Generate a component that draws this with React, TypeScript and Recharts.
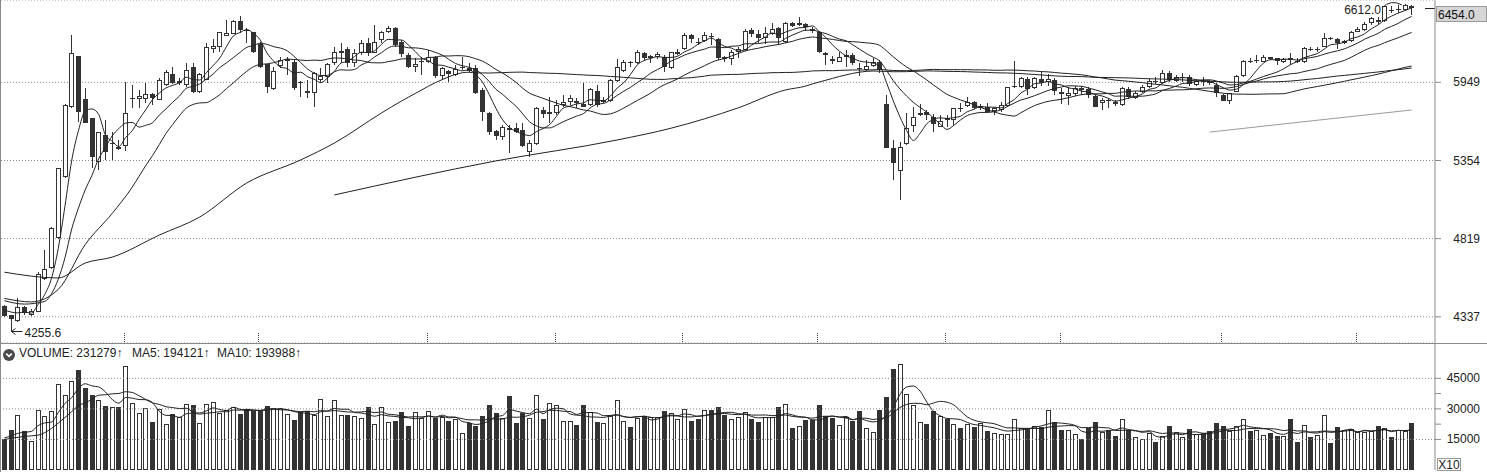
import React from 'react';
import { ComposedChart, Bar, Line, XAxis, YAxis, CartesianGrid, ReferenceLine, ReferenceDot } from 'recharts';

// ---- candle data ----
const opens = [
  4401, 4347, 4312, 4394, 4347, 4365, 4562, 4630, 4821, 5238,
  5758, 6162, 5817, 5667, 5346, 5541, 5475, 5454, 5461, 5817,
  5815, 5817, 5853, 5809, 5928, 6016, 5946, 5928, 6070, 5874,
  5967, 6226, 6240, 6334, 6349, 6461, 6383, 6363, 6262, 6095,
  5893, 6082, 6123, 6117, 5954, 5883, 5862, 5967, 5994, 6104,
  6186, 6226, 6104, 6192, 6275, 6192, 6298, 6363, 6403, 6284,
  6173, 6075, 6114, 6110, 6155, 5999, 6043, 6007, 6061, 6061,
  6061, 5888, 5705, 5571, 5524, 5596, 5596, 5579, 5418, 5475,
  5731, 5698, 5705, 5770, 5796, 5801, 5778, 5770, 5880, 5796,
  5801, 5959, 6040, 6117, 6104, 6186, 6145, 6155, 6158, 6061,
  6181, 6219, 6340, 6284, 6292, 6332, 6304, 6158, 6137, 6195,
  6214, 6383, 6347, 6312, 6349, 6398, 6284, 6447, 6424, 6435,
  6389, 6369, 6192, 6137, 6117, 6158, 6173, 6066, 6048, 6084,
  6112, 5778, 5442, 5281, 5475, 5609, 5692, 5718, 5680, 5604,
  5670, 5654, 5749, 5763, 5796, 5744, 5757, 5723, 5731, 5763,
  5910, 5910, 5975, 5901, 5975, 5949, 5967, 5874, 5842, 5855,
  5901, 5896, 5842, 5783, 5811, 5796, 5770, 5893, 5828, 5870,
  5912, 5962, 5946, 6027, 5962, 5989, 5991, 5928, 5963, 5959,
  5928, 5849, 5803, 5874, 5999, 6119, 6128, 6117, 6155, 6145,
  6110, 6145, 6123, 6112, 6222, 6219, 6240, 6317, 6304, 6270,
  6290, 6369, 6383, 6441, 6470, 6461, 6558, 6558, 6562, 6594,
];
const highs = [
  4405, 4350, 4448, 4400, 4380, 4608, 4747, 4893, 5300, 5775,
  6337, 6165, 5901, 5670, 5565, 5654, 5566, 5504, 5954, 5928,
  5888, 5946, 5860, 5981, 6048, 6075, 5984, 6104, 6104, 6024,
  6270, 6304, 6368, 6470, 6470, 6505, 6398, 6368, 6284, 6100,
  6072, 6156, 6158, 6131, 5956, 5967, 6035, 6062, 6104, 6241,
  6270, 6235, 6226, 6298, 6312, 6427, 6375, 6418, 6412, 6298,
  6186, 6145, 6156, 6214, 6160, 6075, 6048, 6089, 6155, 6104,
  6089, 5903, 5712, 5580, 5619, 5619, 5631, 5631, 5504, 5756,
  5756, 5835, 5809, 5849, 5849, 5822, 5941, 5903, 5928, 5835,
  5973, 6137, 6131, 6120, 6214, 6200, 6173, 6200, 6173, 6200,
  6226, 6360, 6349, 6312, 6369, 6355, 6312, 6164, 6214, 6241,
  6389, 6398, 6383, 6412, 6441, 6412, 6456, 6456, 6499, 6441,
  6412, 6377, 6200, 6164, 6200, 6214, 6186, 6104, 6131, 6145,
  6131, 5849, 5504, 5492, 5705, 5756, 5775, 5731, 5698, 5692,
  5692, 5744, 5783, 5835, 5800, 5778, 5783, 5756, 5796, 5915,
  6123, 5991, 5991, 5991, 6035, 6020, 5984, 5901, 5910, 5920,
  5920, 5912, 5857, 5822, 5825, 5806, 5915, 5912, 5878, 5928,
  5975, 5991, 6048, 6040, 6007, 6024, 6007, 5975, 5991, 5967,
  5940, 5857, 5862, 6007, 6131, 6145, 6173, 6173, 6158, 6150,
  6145, 6186, 6145, 6241, 6241, 6241, 6355, 6325, 6312, 6298,
  6377, 6412, 6453, 6499, 6499, 6595, 6592, 6602, 6612, 6602,
];
const lows = [
  4335, 4255.6, 4306, 4347, 4341, 4364, 4557, 4626, 4817, 5232,
  5750, 5641, 5630, 5298, 5286, 5358, 5358, 5430, 5425, 5744,
  5744, 5783, 5771, 5805, 5920, 5935, 5928, 5915, 5861, 5862,
  5965, 6192, 6200, 6330, 6345, 6355, 6270, 6186, 6061, 5861,
  5888, 6063, 6007, 5888, 5835, 5822, 5756, 5954, 5941, 6089,
  6104, 6075, 6075, 6173, 6164, 6186, 6275, 6355, 6241, 6158,
  6061, 6035, 6007, 6104, 5981, 5973, 5954, 5999, 6048, 6031,
  5857, 5648, 5541, 5504, 5504, 5406, 5554, 5454, 5382, 5467,
  5667, 5631, 5692, 5756, 5770, 5744, 5756, 5763, 5756, 5783,
  5796, 5955, 6035, 6075, 6095, 6131, 6104, 6137, 6035, 6053,
  6173, 6214, 6270, 6256, 6284, 6256, 6131, 6117, 6089, 6145,
  6208, 6326, 6270, 6264, 6340, 6256, 6270, 6412, 6418, 6377,
  6355, 6192, 6089, 6098, 6110, 6075, 6089, 5999, 6043, 6075,
  6021, 5442, 5215, 5076, 5467, 5566, 5684, 5654, 5564, 5601,
  5601, 5619, 5715, 5756, 5739, 5731, 5708, 5692, 5718, 5755,
  5901, 5903, 5849, 5896, 5920, 5920, 5849, 5778, 5771, 5841,
  5849, 5825, 5755, 5731, 5744, 5763, 5763, 5817, 5817, 5862,
  5903, 5936, 5936, 5951, 5951, 5951, 5920, 5920, 5920, 5928,
  5835, 5801, 5778, 5872, 5995, 6104, 6104, 6110, 6131, 6089,
  6104, 6089, 6104, 6104, 6208, 6200, 6240, 6298, 6226, 6264,
  6284, 6366, 6375, 6427, 6427, 6456, 6529, 6529, 6556, 6514,
];
const closes = [
  4341, 4323, 4394, 4361, 4373, 4596, 4624, 4886, 5298, 5770,
  6192, 5718, 5634, 5382, 5561, 5418, 5482, 5435, 5711, 5825,
  5840, 5853, 5827, 5967, 6035, 5941, 5959, 6048, 5874, 6016,
  6236, 6248, 6363, 6354, 6461, 6383, 6375, 6200, 6075, 5915,
  6043, 6131, 6137, 5901, 5941, 5862, 6027, 5999, 6095, 6200,
  6205, 6104, 6192, 6275, 6186, 6284, 6369, 6403, 6256, 6178,
  6075, 6098, 6123, 6155, 5999, 6062, 6016, 6057, 6075, 6043,
  5862, 5718, 5566, 5534, 5599, 5579, 5566, 5461, 5479, 5744,
  5700, 5718, 5770, 5796, 5822, 5786, 5757, 5893, 5770, 5809,
  5967, 6075, 6110, 6104, 6195, 6145, 6164, 6181, 6075, 6195,
  6200, 6340, 6304, 6270, 6340, 6321, 6150, 6137, 6200, 6219,
  6375, 6347, 6318, 6360, 6389, 6312, 6447, 6421, 6441, 6412,
  6375, 6200, 6173, 6123, 6155, 6173, 6104, 6053, 6082, 6112,
  6048, 5446, 5334, 5454, 5591, 5679, 5711, 5692, 5624, 5649,
  5654, 5744, 5744, 5796, 5744, 5763, 5718, 5744, 5767, 5915,
  5920, 5981, 5893, 5981, 5946, 5975, 5883, 5853, 5866, 5903,
  5886, 5849, 5757, 5809, 5803, 5778, 5901, 5832, 5862, 5910,
  5959, 5957, 6027, 5967, 5991, 5991, 5936, 5959, 5960, 5946,
  5862, 5803, 5862, 5999, 6123, 6117, 6131, 6155, 6137, 6126,
  6137, 6131, 6117, 6232, 6219, 6222, 6312, 6304, 6270, 6290,
  6369, 6392, 6432, 6485, 6456, 6592, 6555, 6564, 6598, 6573,
];
// volume, in the chart's "X10" units
const volumes = [
  14980, 19570, 26780, 19080, 14160, 29240, 26290, 28910, 42190, 36610,
  43500, 49070, 40220, 36940, 34160, 31370, 30710, 30710, 50870, 32680,
  27930, 30220, 23500, 30060, 22360, 27440, 25800, 32190, 31860, 22850,
  32190, 33340, 28090, 29400, 30880, 27270, 29730, 29080, 29240, 31210,
  30220, 30220, 27270, 24490, 28260, 28750, 26950, 34650, 26450, 34160,
  26950, 26950, 26450, 25310, 30710, 22520, 30710, 23500, 23990, 28420,
  21540, 28420, 25630, 28750, 25630, 26130, 24160, 25140, 17930, 22850,
  21700, 26450, 32000, 28090, 25310, 36290, 23010, 28090, 25310, 36780,
  24980, 32850, 31700, 23990, 23990, 22030, 31860, 28260, 23670, 23010,
  26450, 34160, 23990, 21040, 25630, 26450, 25800, 25800, 28910, 27760,
  25140, 29900, 23990, 24980, 29240, 29400, 30880, 26950, 24980, 25960,
  28260, 24980, 23670, 25800, 25800, 30880, 32350, 20550, 21370, 24490,
  24490, 31860, 26290, 25470, 21860, 26130, 23990, 28910, 20550, 18420,
  29400, 35800, 49560, 51860, 37110, 31700, 23340, 22520, 29080, 26450,
  25140, 22360, 20550, 22360, 21040, 23180, 19080, 17930, 17600, 17600,
  24810, 20390, 20390, 21540, 21210, 29240, 23500, 19570, 19570, 17440,
  15140, 20390, 23500, 18420, 19570, 16620, 24810, 19570, 16290, 15140,
  18260, 13670, 16780, 21540, 18420, 16130, 20060, 17440, 17930, 19080,
  23010, 21540, 19080, 21370, 24810, 19080, 19570, 17110, 17930, 16460,
  16460, 24980, 13670, 21860, 16290, 16950, 26780, 13180, 21040, 19410,
  19900, 18590, 18590, 19240, 21540, 20550, 16130, 19570, 19080, 23128,
];

// moving-average lead-in values (before the window fills)
const ma5Lead: [number, number][] = [[0, 4377], [1, 4365], [2, 4360], [3, 4365]];
const ma10Lead: [number, number][] = [[0, 4432], [3, 4412], [6, 4428], [7, 4474], [8, 4562]];
const ma20Lead: [number, number][] = [[0, 4446], [4, 4425], [8, 4500], [12, 4780], [16, 4985]];
const ma60Lead: [number, number][] = [
  [0, 4606], [8, 4570], [12, 4663], [16, 4700], [23, 4842], [29, 4961],
  [36, 5194], [44, 5358], [49, 5481], [56, 5708],
];
const ma120Lead: [number, number][] = [[49, 5111], [73, 5351], [91, 5504], [99, 5592], [109, 5748], [116, 5888]];
const ma250Read: [number, number][] = [[179, 5563], [194, 5647], [209, 5731]];
const vma5Lead: [number, number][] = [[0, 15800], [1, 16700], [2, 18000], [3, 18500]];
const vma10Lead: [number, number][] = [[0, 15000], [3, 16500], [5, 17100], [7, 20400], [8, 23000]];

const monthTicks = [18, 38, 63, 82, 101, 121, 140, 157, 181, 201];
const priceTicks = [4337, 4819, 5354, 5949];
const volumeTicks = [15000, 22500, 30000, 37500, 45000];
const volumeGrid = [15000, 30000, 45000];
const priceBoxValue = 6454.0;
const legendVolume = '231279';
const legendMa5 = '194121';
const legendMa10 = '193988';

const FONT = '"Liberation Sans", Arial, sans-serif';
const DARK = '#333333';

function movingAverage(values: number[], n: number, lead: [number, number][]) {
  const leadMap = new Map(lead);
  return values.map((_, i) => {
    if (i >= n - 1) {
      let s = 0;
      for (let k = i - n + 1; k <= i; k++) s += values[k];
      return s / n;
    }
    return leadMap.has(i) ? (leadMap.get(i) as number) : null;
  });
}

const ma5 = movingAverage(closes, 5, ma5Lead);
const ma10 = movingAverage(closes, 10, ma10Lead);
const ma20 = movingAverage(closes, 20, ma20Lead);
const ma60 = movingAverage(closes, 60, ma60Lead);
const ma120 = movingAverage(closes, 120, ma120Lead);
const ma250 = movingAverage(closes, 250, ma250Read);
const vma5 = movingAverage(volumes, 5, vma5Lead);
const vma10 = movingAverage(volumes, 10, vma10Lead);

const rows = closes.map((c, i) => ({
  idx: i,
  open: opens[i],
  high: highs[i],
  low: lows[i],
  close: c,
  range: [lows[i], highs[i]],
  volume: volumes[i],
  ma5: ma5[i], ma10: ma10[i], ma20: ma20[i], ma60: ma60[i], ma120: ma120[i], ma250: ma250[i],
  vma5: vma5[i], vma10: vma10[i],
}));

const maxHigh = Math.max(...highs);
const maxIdx = highs.indexOf(maxHigh);
const minLow = Math.min(...lows);
const minIdx = lows.indexOf(minLow);
const lastClose = closes[closes.length - 1];

const Candle = (props: any) => {
  const { x, y, width, height, payload } = props;
  if (x == null || !payload) return null;
  const top = Math.min(y, y + height);
  const h = Math.abs(height);
  const { open, close, high, low } = payload;
  const lh = Math.log(high), ll = Math.log(low);
  const span = lh - ll;
  const py = (p: number) => (span > 0 ? top + (h * (lh - Math.log(p))) / span : top);
  const bx = Math.round(x);
  const bw = Math.round(width);
  const cx = bx + Math.floor(bw / 2) + 0.5;
  const up = close >= open;
  const bTop = Math.round(py(Math.max(open, close)));
  const bBot = Math.round(py(Math.min(open, close)));
  const yH = Math.round(py(high));
  const yL = Math.round(py(low));
  if (up) {
    const bh = Math.max(bBot - bTop, 1);
    return (
      <g>
        <line x1={cx} x2={cx} y1={yH} y2={bTop} stroke={DARK} strokeWidth={1} />
        <line x1={cx} x2={cx} y1={bTop + bh} y2={yL} stroke={DARK} strokeWidth={1} />
        <rect x={bx + 0.5} y={bTop + 0.5} width={bw - 1} height={Math.max(bh - 1, 0.01)} fill="#fff" stroke={DARK} strokeWidth={1} />
      </g>
    );
  }
  const bh = Math.max(bBot - bTop, 1);
  return (
    <g>
      <line x1={cx} x2={cx} y1={yH} y2={yL} stroke={DARK} strokeWidth={1} />
      <rect x={bx} y={bTop} width={bw} height={bh} fill={DARK} />
    </g>
  );
};

const VolBar = (props: any) => {
  const { x, y, width, height, payload } = props;
  if (x == null || !payload) return null;
  const bx = Math.round(x);
  const bw = Math.round(width);
  const top = Math.round(Math.min(y, y + height));
  const bot = Math.round(Math.max(y, y + height));
  const up = payload.close >= payload.open;
  if (up) {
    return <rect x={bx + 0.5} y={top + 0.5} width={bw - 1} height={Math.max(bot - top - 1, 0)} fill="#fff" stroke={DARK} strokeWidth={1} />;
  }
  return <rect x={bx} y={top} width={bw} height={bot - top} fill={DARK} />;
};

// short dotted month mark standing on the bottom edge of the price panel
const MonthMark = (props: any) => {
  const vb = props.viewBox;
  if (!vb) return null;
  const xx = Math.round(vb.x - 2) + 0.5;
  const yb = vb.y + vb.height;
  return <line x1={xx} x2={xx} y1={yb - 10} y2={yb} stroke="#444" strokeDasharray="1 1" />;
};

const PriceTick = (props: any) => {
  const { x, y, payload } = props;
  return (
    <text x={x + 37} y={y + 4} textAnchor="end" fontSize={12} fill="#222" fontFamily={FONT}>
      {payload.value}
    </text>
  );
};

const VolTick = (props: any) => {
  const { x, y, payload } = props;
  if (payload.value % 15000 !== 0) return null;
  return (
    <text x={x + 37} y={y + 4} textAnchor="end" fontSize={12} fill="#222" fontFamily={FONT}>
      {payload.value}
    </text>
  );
};

const PriceBox = (props: any) => {
  const vb = props.viewBox;
  if (!vb) return null;
  const ax = vb.x + vb.width;
  const yy = Math.round(vb.y);
  return (
    <g>
      <rect x={ax + 1.5} y={yy - 15.5} width={50} height={15} fill="#d6d6d6" stroke="#9a9a9a" />
      <text x={ax + 3} y={yy - 3.5} fontSize={12} fill="#111" fontFamily={FONT}>
        {priceBoxValue.toFixed(1)}
      </text>
    </g>
  );
};

const LastMark = (props: any) => {
  const vb = props.viewBox;
  if (!vb) return null;
  const ax = vb.x + vb.width;
  const yy = Math.round(vb.y) + 0.5;
  return <line x1={ax - 10} x2={ax} y1={yy} y2={yy} stroke="#222" />;
};

const HighMark = (props: any) => {
  const { cx, cy } = props;
  if (cx == null) return null;
  return (
    <g>
      <text x={cx - 24} y={cy + 10} textAnchor="end" fontSize={12} fill="#222" fontFamily={FONT}>
        {maxHigh.toFixed(1)}
      </text>
      <path d={`M${cx - 23},${cy + 4} Q${cx - 14},${cy - 5} ${cx - 3},${cy + 1}`} stroke="#222" fill="none" />
    </g>
  );
};

const LowMark = (props: any) => {
  const { cx, cy } = props;
  if (cx == null) return null;
  const x0 = Math.round(cx) + 0.5;
  const y0 = Math.round(cy) + 0.5;
  return (
    <g>
      <path d={`M${x0},${y0} L${x0 + 11},${y0} M${x0 + 4},${y0 - 3} L${x0},${y0} L${x0 + 4},${y0 + 3}`} stroke="#222" fill="none" />
      <text x={x0 + 13} y={y0 + 5} fontSize={12} fill="#222" fontFamily={FONT}>
        {minLow.toFixed(1)}
      </text>
    </g>
  );
};

const lineProps = { dot: false, activeDot: false, isAnimationActive: false, connectNulls: true, strokeWidth: 1, type: 'monotone' as const };

export default function App() {
  return (
    <div style={{ position: 'absolute', left: 0, top: 0, width: 1487, height: 472, background: '#fff', overflow: 'hidden', fontFamily: FONT }}>
      <div style={{ position: 'absolute', left: 0, top: 0, width: 1, height: 472, background: '#8a8a8a' }} />
      <div style={{ position: 'absolute', left: 1, top: 0 }}>
        <ComposedChart width={1486} height={343} data={rows} margin={{ top: 0, right: 0, bottom: 0, left: 0 }}>
          <CartesianGrid horizontal vertical={false} stroke="#8c8c8c" strokeDasharray="1 2" />
          <XAxis dataKey="idx" hide padding={{ left: 0, right: 20 }} />
          <YAxis
            orientation="right"
            width={52}
            scale="log"
            domain={[4186.6, 6646.9]}
            allowDataOverflow
            ticks={priceTicks}
            tick={<PriceTick />}
            tickSize={6}
            tickMargin={2}
            axisLine={{ stroke: '#8a8a8a' }}
            tickLine={{ stroke: '#8a8a8a' }}
          />
          {monthTicks.map((k) => (
            <ReferenceLine key={k} x={k} stroke="none" label={<MonthMark />} />
          ))}
          <Line dataKey="ma250" stroke="#9a9a9a" {...lineProps} />
          <Line dataKey="ma120" stroke="#222" {...lineProps} />
          <Line dataKey="ma60" stroke="#222" {...lineProps} />
          <Line dataKey="ma20" stroke="#222" {...lineProps} />
          <Line dataKey="ma10" stroke="#222" {...lineProps} />
          <Line dataKey="ma5" stroke="#222" {...lineProps} />
          <Bar dataKey="range" barSize={5} shape={<Candle />} isAnimationActive={false} />
          <ReferenceLine y={priceBoxValue} stroke="none" label={<PriceBox />} />
          <ReferenceLine y={lastClose} stroke="none" label={<LastMark />} />
          <ReferenceDot x={maxIdx} y={maxHigh} r={0} shape={<HighMark />} />
          <ReferenceDot x={minIdx} y={minLow} r={0} shape={<LowMark />} />
        </ComposedChart>
      </div>
      <div style={{ position: 'absolute', left: 0, top: 343, width: 1487, height: 1, background: '#8a8a8a' }} />
      <div style={{ position: 'absolute', left: 1, top: 344 }}>
        <ComposedChart width={1486} height={128} data={rows} margin={{ top: 0, right: 0, bottom: 2, left: 0 }}>
          <XAxis dataKey="idx" hide padding={{ left: 0, right: 20 }} />
          <YAxis
            orientation="right"
            width={52}
            domain={[0, 61830]}
            allowDataOverflow
            ticks={volumeTicks}
            interval={0}
            tick={<VolTick />}
            tickSize={6}
            tickMargin={2}
            axisLine={{ stroke: '#8a8a8a' }}
            tickLine={{ stroke: '#8a8a8a' }}
          />
          {volumeGrid.map((v) => (
            <ReferenceLine key={v} y={v} stroke="#8c8c8c" strokeDasharray="1 2" />
          ))}
          <Bar dataKey="volume" barSize={5} shape={<VolBar />} isAnimationActive={false} />
          <Line dataKey="vma10" stroke="#222" {...lineProps} />
          <Line dataKey="vma5" stroke="#222" {...lineProps} />
        </ComposedChart>
      </div>
      <div style={{ position: 'absolute', left: 3, top: 347, width: 12, height: 12 }}>
        <svg width={12} height={12}>
          <circle cx={6} cy={6} r={6} fill="#4a4a4a" />
          <path d="M3.2,4.6 L6,7.4 L8.8,4.6" stroke="#fff" strokeWidth={1.6} fill="none" />
        </svg>
      </div>
      <div style={{ position: 'absolute', top: 346, left: 19, fontSize: 12, lineHeight: '14px', color: '#222', whiteSpace: 'nowrap' }}>
        VOLUME: {legendVolume}↑
      </div>
      <div style={{ position: 'absolute', top: 346, left: 132, fontSize: 12, lineHeight: '14px', color: '#222', whiteSpace: 'nowrap' }}>
        MA5: {legendMa5}↑
      </div>
      <div style={{ position: 'absolute', top: 346, left: 217, fontSize: 12, lineHeight: '14px', color: '#222', whiteSpace: 'nowrap' }}>
        MA10: {legendMa10}↑
      </div>
      <div
        style={{
          position: 'absolute', left: 1437, top: 458, width: 24, height: 13, border: '1px solid #999',
          fontSize: 12, lineHeight: '13px', color: '#222', textAlign: 'center', boxSizing: 'border-box',
        }}
      >
        X10
      </div>
    </div>
  );
}
